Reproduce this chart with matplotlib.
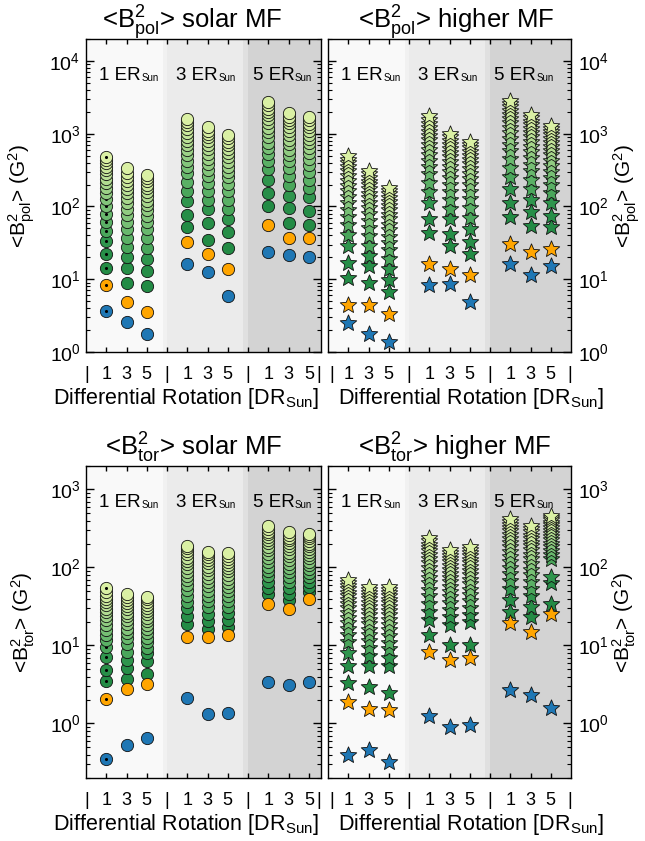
import numpy as np
import matplotlib
matplotlib.use('Agg')
import matplotlib.pyplot as plt
import matplotlib.transforms as mtransforms
from matplotlib.path import Path
from matplotlib.ticker import LogLocator, NullFormatter

plt.rcParams['font.family'] = ['Liberation Sans', 'DejaVu Sans']
plt.rcParams['mathtext.fontset'] = 'custom'
plt.rcParams['mathtext.rm'] = 'Liberation Sans'
plt.rcParams['mathtext.it'] = 'Liberation Sans:italic'
plt.rcParams['mathtext.bf'] = 'Liberation Sans:bold'
plt.rcParams['mathtext.sf'] = 'Liberation Sans'

# ---------------- data ----------------
dr_positions = [1, 2, 3, 5, 6, 7, 9, 10, 11]
tick_labels = ['1', '3', '5', '|', '1', '3', '5', '|', '1', '3', '5']
er_labels = ['1 ER', '3 ER', '5 ER']
er_positions = [0.65, 4.45, 8.22]

# <B^2_pol>, solar MF (circles)
pol_solar_blue = [3.7, 2.6, 1.75, 16.1, 12.6, 5.9, 24, 21.6, 20.5]
pol_solar_orange = [8.3, 4.9, 3.6, 32.9, 22.1, 13.7, 55.3, 37.4, 36.6]
pol_solar_green = [
    [14.2, 22, 33.6, 46, 61, 78, 100, 126, 152, 180, 210, 242, 276, 313, 353, 395, 435, 475],
    [9.0, 14.4, 20.3, 27.8, 37.4, 48.7, 61.4, 76, 92, 110, 130, 151, 174, 199, 226, 255, 290, 336],
    [8.1, 13, 19.2, 27.2, 37.4, 49.6, 61, 74, 88, 104, 120, 138, 157, 177, 198, 221, 245, 270],
    [53, 77, 117, 164, 220, 285, 353, 428, 511, 600, 697, 801, 912, 1037, 1163, 1296, 1436, 1584],
    [35, 60, 92, 121, 161, 207, 262, 320, 384, 454, 529, 610, 697, 790, 888, 992, 1102, 1218],
    [26.7, 44, 67, 92, 122, 161, 202, 250, 299, 353, 412, 475, 543, 620, 697, 778, 864, 955],
    [102, 155, 232, 326, 420, 520, 630, 751, 888, 1043, 1211, 1384, 1576, 1781, 1989, 2218, 2450, 2694],
    [60, 94, 140, 198, 262, 335, 416, 506, 605, 713, 829, 961, 1096, 1239, 1391, 1552, 1722, 1901],
    [55, 87, 136, 180, 234, 299, 372, 449, 538, 635, 734, 847, 967, 1096, 1225, 1369, 1521, 1673],
]

# <B^2_pol>, higher MF (stars)
pol_higher_blue = [2.53, 1.75, 1.37, 8.27, 8.53, 4.92, 16.4, 11.4, 15.2]
pol_higher_orange = [4.39, 4.39, 3.3, 16.1, 14.0, 11.4, 30.3, 24.0, 26.4]
pol_higher_green = [
    [10.5, 16.9, 28.7, 40.6, 55, 71, 90, 112, 137, 164, 193, 225, 262, 303, 346, 392, 441, 497],
    [9.0, 15.2, 20.9, 28.7, 39.4, 51, 64, 78, 94, 111, 130, 150, 172, 195, 219, 248, 279, 310],
    [6.7, 9.8, 13.7, 19.2, 25, 31.4, 38.4, 46.9, 56.3, 66.4, 77.4, 89.3, 102, 116, 131, 146, 164, 182],
    [43.6, 67, 112, 159, 213, 276, 346, 424, 511, 605, 708, 818, 936, 1063, 1204, 1354, 1521, 1764],
    [28.7, 41.6, 66.9, 91.8, 122, 158, 200, 247, 298, 353, 413, 477, 546, 620, 700, 785, 890, 1005],
    [22.1, 32.6, 49.7, 70.4, 95.6, 125, 158, 195, 235, 280, 328, 381, 437, 497, 561, 629, 700, 773],
    [72, 112, 174, 253, 342, 449, 571, 702, 853, 1018, 1197, 1384, 1592, 1815, 2043, 2294, 2560, 2841],
    [54, 84, 123, 174, 234, 303, 376, 462, 557, 660, 773, 894, 1024, 1163, 1310, 1459, 1624, 1798],
    [53, 74, 112, 151, 196, 243, 299, 361, 428, 502, 576, 660, 751, 847, 949, 1050, 1163, 1282],
]

# <B^2_tor>, solar MF (circles)
tor_solar_blue = [0.349, 0.535, 0.652, 2.1, 1.31, 1.37, 3.45, 3.12, 3.45]
tor_solar_orange = [2.04, 2.75, 3.25, 13.0, 12.8, 13.8, 34.5, 29.7, 40.0]
tor_solar_green = [
    [3.52, 4.89, 7.04, 9.6, 11.6, 13.7, 16, 18.4, 21, 23.7, 26.6, 29.6, 32.8, 36.2, 39.8, 43.5, 48.5, 53.8],
    [3.7, 5.2, 6.5, 8.2, 10.5, 12.3, 14.3, 16.4, 18.7, 21.1, 23.6, 26.3, 29.2, 32.1, 35.3, 38.6, 42, 45.6],
    [4.3, 6.4, 7.95, 9.4, 11, 12.6, 14.4, 16.3, 18.3, 20.5, 22.8, 25.2, 27.7, 30.3, 33.1, 35.9, 38.9, 42],
    [19, 24.2, 29.9, 36.4, 43.3, 51, 59.1, 68.1, 77.4, 87.6, 98.2, 109.6, 121.4, 134.1, 147.1, 161, 175.3, 190.4],
    [16.4, 20.8, 25.6, 31, 36.8, 43.3, 50.3, 57.6, 65.6, 74, 83, 92.4, 102.4, 113, 123.9, 135.5, 147.4, 160],
    [17.2, 21.4, 26.1, 31.2, 36.8, 43, 49.6, 56.6, 64, 71.9, 80.3, 89.1, 98.4, 108.4, 118.6, 129.3, 140.4, 152],
    [45.2, 54.8, 65.4, 76.9, 89.5, 102.8, 117.3, 132.5, 148.8, 165.9, 184.1, 203, 223.2, 244, 266, 288.7, 312.6, 337],
    [37.9, 46.1, 54.9, 64.6, 75, 86.3, 98.4, 111.1, 124.8, 139, 154.3, 170.3, 186.9, 204.5, 222.6, 241.8, 261.5, 282.2],
    [48.7, 56.9, 65.4, 74.8, 84.8, 95.5, 106.7, 118.4, 130.9, 144, 157.8, 171.9, 186.9, 202.5, 218.7, 235.6, 252.8, 270.9],
]

# <B^2_tor>, higher MF (stars)
tor_higher_blue = [0.398, 0.461, 0.319, 1.24, 0.895, 0.97, 2.67, 2.3, 1.59]
tor_higher_orange = [1.9, 1.52, 1.47, 8.17, 6.52, 6.92, 19.4, 15.1, 25.6]
tor_higher_green = [
    [3.35, 5.38, 7.95, 11, 13.5, 16.2, 19.3, 22.5, 26, 29.8, 33.8, 38.1, 42.5, 47.3, 52.4, 57.6, 63.2, 68.9],
    [2.94, 5.5, 7.4, 9.2, 11.3, 13.5, 16, 18.7, 21.5, 24.6, 27.9, 31.4, 35, 38.9, 43, 47.3, 51.8, 56.6],
    [2.48, 5.5, 7.0, 8.9, 10.9, 13.2, 15.6, 18.3, 21.2, 24.3, 27.6, 31.1, 34.8, 38.8, 42.9, 47.3, 51.8, 56.6],
    [13.8, 21, 26.8, 34.3, 42.8, 52.1, 62.4, 73.6, 85.7, 98.8, 112.8, 127.7, 143.5, 160.3, 178, 196.6, 216.1, 237.2],
    [10, 18.1, 23.1, 28.6, 34.8, 41.5, 48.7, 56.6, 65.1, 74.1, 83.7, 93.9, 104.9, 116.2, 128.4, 140.9, 154, 168],
    [10, 19.9, 24.3, 30.3, 36.8, 44.1, 52, 60.7, 69.9, 79.7, 90.3, 101.4, 113.2, 125.7, 139, 152.8, 167.2, 182.3],
    [26.8, 38, 53.7, 67.4, 82.6, 99.4, 117.7, 137.6, 159, 182, 206.5, 232.6, 260.2, 289.3, 320, 352.3, 386.1, 420],
    [23.1, 31.1, 42.8, 53.7, 65.9, 79.2, 93.9, 109.8, 127, 145.4, 165.1, 186, 208, 231.3, 256, 281.9, 309, 337],
    [33.7, 62.4, 76.2, 127.7, 144.7, 162.8, 182, 202.2, 223.5, 245.9, 269.3, 293.8, 319.3, 346, 373.6, 402.4, 432.2, 462.3],
]

# ---------------- style ----------------
green_colors = ['#238b45', '#278e48', '#2f954d', '#4aa65b', '#5ab065', '#68b86d',
                '#76bf74', '#83c57b', '#90cb81', '#9cd187', '#a7d68c', '#b1db91',
                '#bae096', '#c3e59a', '#cae89c', '#d1eb9f', '#d6eea1', '#daf0a4']
blue_color = '#1f77b4'
orange_color = '#ffa500'
band_specs = [(0, 3.8, '#f9f9f9'), (3.8, 4.0, '#f1f1f1'), (4.0, 7.75, '#ebebeb'),
              (7.75, 8.0, '#e0e0e0'), (8.0, 12.5, '#d3d3d3')]
star_path = Path.unit_regular_star(5, 0.45)

W, H = 645, 841
fig = plt.figure(figsize=(W / 100, H / 100), dpi=100)


def make_axes(l, r, t, b):
    return fig.add_axes([l / W, 1 - b / H, (r - l) / W, (b - t) / H])


def text_with_sub(ax, x, y, main, sub, size, subsize, transform, drop=0.6, zorder=2):
    t = ax.text(x, y, main, transform=transform, fontsize=size, ha='left',
                va='baseline', zorder=zorder)
    ax.annotate(sub, xy=(1, 0), xycoords=t, xytext=(0.4, 0.21 * size - drop),
                textcoords='offset points', fontsize=subsize, ha='left',
                va='baseline', zorder=zorder, annotation_clip=False)
    return t


panels = [
    dict(box=(86, 321, 39, 352), xmax=11.6, ylim=(1, 2e4), blue=pol_solar_blue,
         orange=pol_solar_orange, green=pol_solar_green, star=False, sun=True,
         side='left', comp='pol', kind='solar MF', title_x=0.451, seps=(0.05, 11.5)),
    dict(box=(328, 571, 39, 352), xmax=12.0, ylim=(1, 2e4), blue=pol_higher_blue,
         orange=pol_higher_orange, green=pol_higher_green, star=True, sun=False,
         side='right', comp='pol', kind='higher MF', title_x=0.527, seps=(0.2, 11.95)),
    dict(box=(86, 321, 466, 778), xmax=11.6, ylim=(0.2, 2000), blue=tor_solar_blue,
         orange=tor_solar_orange, green=tor_solar_green, star=False, sun=True,
         side='left', comp='tor', kind='solar MF', title_x=0.458, seps=(0.05, 11.5)),
    dict(box=(328, 571, 466, 778), xmax=12.0, ylim=(0.2, 2000), blue=tor_higher_blue,
         orange=tor_higher_orange, green=tor_higher_green, star=True, sun=False,
         side='right', comp='tor', kind='higher MF', title_x=0.522, seps=(0.2, 11.95)),
]

for p in panels:
    ax = make_axes(*p['box'])
    ax.set_xlim(0, p['xmax'])
    ax.set_yscale('log')
    ax.set_ylim(*p['ylim'])
    for (a, b, c) in band_specs:
        ax.axvspan(a, b, color=c, lw=0, zorder=0)

    marker = star_path if p['star'] else 'o'
    size = 155 if p['star'] else 78
    for j, x in enumerate(dr_positions):
        vals = list(p['green'][j])
        cols = list(green_colors[:len(vals)])
        seq = [(v, c) for v, c in zip(vals, cols)]
        seq = seq + [(p['orange'][j], orange_color), (p['blue'][j], blue_color)]
        for k, (v, c) in enumerate(seq):
            z = 3 + 0.01 * k
            ax.scatter([x], [v], s=size, marker=marker, c=c, edgecolors='#111111',
                       linewidths=0.6, zorder=z)
            if p['sun'] and j == 0:
                ax.scatter([x], [v], s=5, marker='o', c='black', linewidths=0,
                           zorder=z + 0.005)

    # y axis
    ax.yaxis.set_major_locator(LogLocator(base=10, numticks=12))
    ax.yaxis.set_minor_locator(LogLocator(base=10, subs=np.arange(2, 10), numticks=100))
    ax.yaxis.set_minor_formatter(NullFormatter())
    ax.tick_params(axis='y', which='both', direction='in', left=True, right=True,
                   labelsize=14, pad=4)
    ax.tick_params(axis='y', which='major', length=6, width=1)
    ax.tick_params(axis='y', which='minor', length=3, width=0.8)
    ylabel = r'<B$^{2}_{\mathrm{%s}}$> (G$^{2}$)' % p['comp']
    ax.set_ylabel(ylabel, fontsize=15)
    if p['side'] == 'right':
        ax.tick_params(axis='y', which='both', labelleft=False, labelright=True, pad=5)
        ax.yaxis.set_label_position('right')
        ax.yaxis.set_label_coords(1.165, 0.5)
    else:
        ax.yaxis.set_label_coords(-0.21, 0.5)

    # x axis
    ax.xaxis.remove_overlapping_locs = False
    ax.set_xticks(list(range(1, 12)))
    ax.tick_params(axis='x', which='major', direction='in', top=True, bottom=True,
                   length=3.5, width=1, labelbottom=False)
    lab_pos = [p['seps'][0]] + list(range(1, 12)) + [p['seps'][1]]
    lab_txt = ['|'] + tick_labels + ['|']
    ax.set_xticks(lab_pos, minor=True)
    ax.set_xticklabels(lab_txt, minor=True)
    ax.tick_params(axis='x', which='minor', length=0, labelsize=13, pad=10,
                   top=False, bottom=True)

    for sp in ax.spines.values():
        sp.set_linewidth(1.0)
        sp.set_zorder(10)

    # ER labels
    tr = mtransforms.blended_transform_factory(ax.transData, ax.transAxes)
    for lab, xp in zip(er_labels, er_positions):
        text_with_sub(ax, xp, 0.869, lab, 'Sun', 13.5, 7, tr)

    # title
    title = r'<B$^{2}_{\mathrm{%s}}$> %s' % (p['comp'], p['kind'])
    ax.text(p['title_x'], 1.034, title, transform=ax.transAxes, ha='center',
            va='baseline', fontsize=18.5)

    # x label
    xl_x = 0.425 if p['side'] == 'left' else 0.588
    ax.text(xl_x, -0.166, r'Differential Rotation [DR$_{\mathrm{Sun}}$]',
            transform=ax.transAxes, ha='center', va='baseline', fontsize=15.5)

fig.savefig('out.png', dpi=100)
